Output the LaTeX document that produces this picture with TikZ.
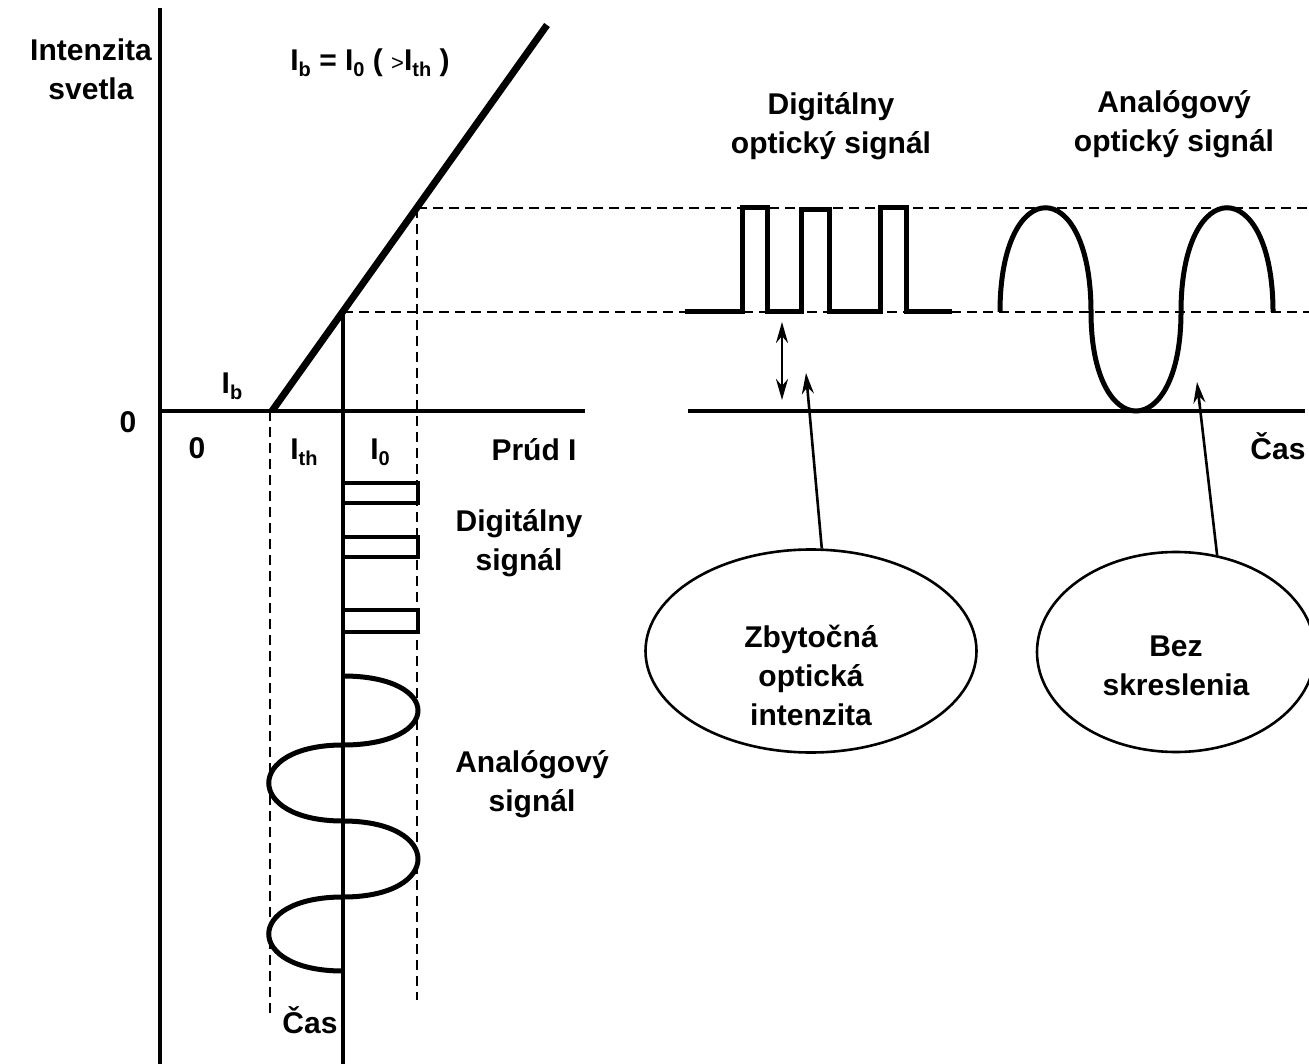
\documentclass[tikz,border=0pt]{standalone}
\usepackage{fontspec}
\setmainfont{Liberation Sans}
\usetikzlibrary{arrows.meta,positioning,shapes.geometric}
\newcommand{\lisub}[1]{\raisebox{-6pt}{\fontsize{20}{20}\selectfont #1}}
\tikzset{
  litext/.style={font=\fontsize{30}{39}\selectfont\bfseries, align=center, inner sep=0pt},
  liaxis/.style={line width=3.5pt},
  lichar/.style={line width=7pt},
  lidash/.style={line width=2.6pt, dash pattern=on 10pt off 6pt},
  lisig/.style={line width=5pt},
  lipulse/.style={line width=4.5pt},
  libubble/.style={draw, ellipse, line width=2.6pt, inner sep=0pt},
  liarr/.style={-{Stealth[length=21pt, width=12pt]}, line width=2.6pt},
  liarrboth/.style={{Stealth[length=21pt, width=12pt]}-{Stealth[length=21pt, width=12pt]}, line width=2.6pt}
}
\begin{document}
\begin{tikzpicture}[x=1pt, y=-1pt]
  \useasboundingbox (0,0) rectangle (1309,1064);
  % axes and characteristic
  \draw[liaxis] (160,8) -- (160,1064);
  \draw[liaxis] (160,411) -- (585,411);
  \draw[liaxis] (688,411) -- (1305,411);
  \draw[lidash] (270,411) -- (270,1017);
  \draw[lidash] (417,208) -- (417,1000);
  \draw[lidash] (417,208) -- (1309,208);
  \draw[lidash] (343,312) -- (1309,312);
  \draw[liaxis] (343,312) -- (343,1064);
  \draw[lichar] (272,411) -- (547,25);
  % drive current
  \draw[lipulse] (343,483) rectangle (418,503);
  \draw[lipulse] (343,537) rectangle (418,557);
  \draw[lipulse] (343,610) rectangle (418,632);
  \draw[lisig] (343,676) .. controls (443,676) and (443,745) .. (343,745)
    .. controls (244,745) and (244,821) .. (343,821)
    .. controls (443,821) and (443,897) .. (343,897)
    .. controls (244,897) and (244,971) .. (343,971);
  % optical output
  \draw[lisig] (685,312) -| (742,208) -| (767,312) -| (801,210) -| (829,312)
    -| (880,208) -| (906,312) -- (952,312);
  \draw[lisig] (1000,312) .. controls (1000,173) and (1091,173) .. (1091,312)
    .. controls (1091,444) and (1181,444) .. (1181,312)
    .. controls (1181,173) and (1273,173) .. (1273,312);

  \node[litext] (ylabel) at (91,69) {Intenzita\\svetla};
  \node[litext] (bias) at (370,63) {I\lisub{b} = I\lisub{0} ( {\mdseries\fontsize{22}{22}\selectfont >}I\lisub{th} )};
  \node[litext] (ib) at (232,386) {I\lisub{b}};
  \node[litext] (yzero) at (128,422) {0};
  \node[litext] (xzero) at (197,448) {0};
  \node[litext] (ith) at (304,452) {I\lisub{th}};
  \node[litext] (izero) at (380,452) {I\lisub{0}};
  \node[litext] (current) at (534,450) {Prúd I};
  \node[litext] (timeright) at (1278,446) {Čas};
  \node[litext] (timedown) at (310,1020) {Čas};
  \node[litext] (digin) at (519,543) {Digitálny\\signál};
  \node[litext] (anain) at (532,784) {Analógový\\signál};
  \node[litext] (digout) at (831,126) {Digitálny\\optický signál};
  \node[litext] (anaout) at (1174,124) {Analógový\\optický signál};

  \node[libubble, minimum width=331pt, minimum height=203pt] (waste) at (811,651) {};
  \node[litext] (wastetext) at (811,675) {Zbytočná\\optická\\intenzita};
  \node[libubble, minimum width=278pt, minimum height=200pt] (clean) at (1176,652) {};
  \node[litext] (cleantext) at (1176,666) {Bez\\skreslenia};

  \coordinate (gaptop) at (782,322);
  \coordinate (gapbot) at (782,400);
  \coordinate (wastetip) at (806,373);
  \coordinate (cleantip) at (1197,382);
  \draw[liarrboth] (gaptop) -- (gapbot);
  \draw[liarr] (waste.84) -- (wastetip);
  \draw[liarr] (clean.67) -- (cleantip);
\end{tikzpicture}
\end{document}
